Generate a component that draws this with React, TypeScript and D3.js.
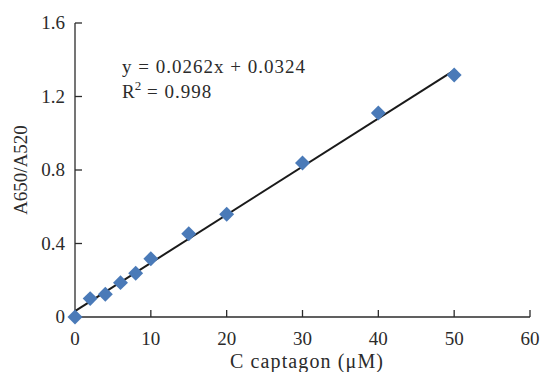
import React from "react";
import { scaleLinear, line, symbol, symbolSquare } from "d3";

const concentration = [0, 2, 4, 6, 8, 10, 15, 20, 30, 40, 50];
const absorbanceRatio = [0, 0.1, 0.124, 0.187, 0.238, 0.317, 0.453, 0.559, 0.838, 1.11, 1.317];
const xTicks = [0, 10, 20, 30, 40, 50, 60];
const yTicks = [0, 0.4, 0.8, 1.2, 1.6];
const slope = 0.0262;
const intercept = 0.0324;
const fitRange = [0, 50];

const W = 541;
const H = 372;
const margin = { top: 23, right: 11, bottom: 55, left: 75 };
const font = "'Liberation Serif', 'Times New Roman', serif";
const ink = "#2b2b2b";

const App = () => {
    const x = scaleLinear().domain([0, 60]).range([margin.left, W - margin.right]);
    const y = scaleLinear().domain([0, 1.6]).range([H - margin.bottom, margin.top]);

    const fitLine = line<number>()
        .x((d) => x(d))
        .y((d) => y(slope * d + intercept));

    const marker = symbol().type(symbolSquare).size(112)();

    return (
        <svg width={W} height={H} style={{ position: "absolute", left: 0, top: 0 }} fontFamily={font}>
            <rect width={W} height={H} fill="#fff" />
            {/* axes */}
            <line x1={x(0)} x2={x(60)} y1={y(0)} y2={y(0)} stroke={ink} strokeWidth={1.3} />
            <line x1={x(0)} x2={x(0)} y1={y(0)} y2={y(1.6)} stroke={ink} strokeWidth={1.3} />
            {xTicks.map((t) => (
                <g key={"x" + t}>
                    <line x1={x(t)} x2={x(t)} y1={y(0)} y2={y(0) - 7} stroke={ink} strokeWidth={1.3} />
                    <text x={x(t)} y={345} textAnchor="middle" fontSize={19} fill={ink}>{t}</text>
                </g>
            ))}
            {yTicks.map((t) => (
                <g key={"y" + t}>
                    <line x1={x(0)} x2={x(0) + 7} y1={y(t)} y2={y(t)} stroke={ink} strokeWidth={1.3} />
                    <text x={65} y={y(t) + 6} textAnchor="end" fontSize={19} fill={ink}>{t === 0 ? "0" : t.toFixed(1)}</text>
                </g>
            ))}
            {/* fit line */}
            <path d={fitLine(fitRange) || ""} fill="none" stroke="#1a1a1a" strokeWidth={2} />
            {/* points */}
            {concentration.map((c, i) => (
                <path
                    key={"p" + i}
                    d={marker || ""}
                    transform={`translate(${x(c)},${y(absorbanceRatio[i])}) rotate(45)`}
                    fill="#4a7ab8"
                />
            ))}
            {/* equation */}
            <text x={122} y={73} fontSize={19} fill={ink} textLength={183} lengthAdjust="spacing">y = 0.0262x + 0.0324</text>
            <text x={122} y={98} fontSize={19} fill={ink}>
                R<tspan dy={-8} fontSize={13}>2</tspan><tspan dy={8} letterSpacing={1}> = 0.998</tspan>
            </text>
            {/* axis titles */}
            <text x={230} y={368} fontSize={20} fill={ink} textLength={153} lengthAdjust="spacing">C captagon (μM)</text>
            <text transform={`translate(27,${(y(0) + y(1.6)) / 2}) rotate(-90)`} textAnchor="middle" fontSize={19} fill={ink}>A650/A520</text>
        </svg>
    );
};

export default App;
